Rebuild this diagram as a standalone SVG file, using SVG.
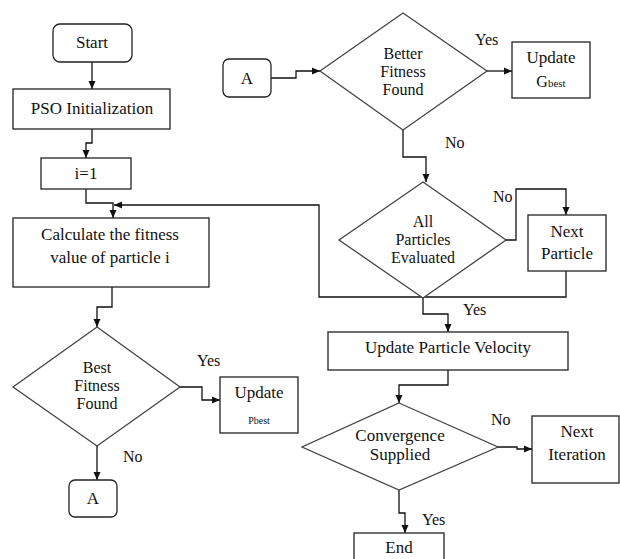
<svg xmlns="http://www.w3.org/2000/svg" width="620" height="559" viewBox="0 0 620 559">
<style>
.box{fill:#fff;stroke:#222;stroke-width:1.3}
.dia{fill:#fff;stroke:#444;stroke-width:1.3}
text{font-family:'Liberation Serif','DejaVu Serif','Times New Roman',serif;fill:#111}
.t{font-size:17px;text-anchor:middle}
.d{font-size:16px;text-anchor:middle}
.l{font-size:16px}
.s{font-size:10px;text-anchor:middle}
.c{fill:none;stroke:#111;stroke-width:1.3}
</style>
<defs>
<marker id="ah" markerUnits="userSpaceOnUse" markerWidth="9" markerHeight="8" refX="8" refY="4" orient="auto">
<path d="M0,0.5 L8,4 L0,7.5 z" fill="#111"/>
</marker>
</defs>
<rect width="620" height="559" fill="#fff"/>
<g id="connectors">
<path class="c" d="M92,62 V89" marker-end="url(#ah)"/>
<path class="c" d="M92,129 V143 H86 V158" marker-end="url(#ah)"/>
<path class="c" d="M86,189 V203 H113 V218" marker-end="url(#ah)"/>
<path class="c" d="M566,271 V297 H319 V205 H114" marker-end="url(#ah)"/>
<path class="c" d="M112,287 V307 H97 V327" marker-end="url(#ah)"/>
<path class="c" d="M180,387 H202 V400 H220" marker-end="url(#ah)"/>
<path class="c" d="M97,446 V480" marker-end="url(#ah)"/>
<path class="c" d="M271,78 H296 V71 H320" marker-end="url(#ah)"/>
<path class="c" d="M487,71 H512" marker-end="url(#ah)"/>
<path class="c" d="M403,130 V157 H426 V182" marker-end="url(#ah)"/>
<path class="c" d="M506,240 H516 V189 H566 V215" marker-end="url(#ah)"/>
<path class="c" d="M423,298 V314 H448 V332" marker-end="url(#ah)"/>
<path class="c" d="M448,370 V385 H399 V403" marker-end="url(#ah)"/>
<path class="c" d="M498,447 H517 V449 H532" marker-end="url(#ah)"/>
<path class="c" d="M399,490 V513 H405 V533" marker-end="url(#ah)"/>
</g>
<g id="start"><rect class="box" x="53" y="24" width="79" height="38" rx="7"/><text class="t" x="92" y="48">Start</text></g>
<g id="pso-init"><rect class="box" x="13" y="89" width="157" height="40"/><text class="t" x="92" y="114">PSO Initialization</text></g>
<g id="i-init"><rect class="box" x="41" y="158" width="90" height="31"/><text class="t" x="86" y="179">i=1</text></g>
<g id="calc"><rect class="box" x="13" y="218" width="196" height="69"/><text class="t" x="110" y="240">Calculate the fitness</text><text class="t" x="110" y="263">value of particle i</text></g>
<g id="best-fitness"><polygon class="dia" points="97,327 180,387 97,446 13,387"/><text class="d" x="97" y="373">Best</text><text class="d" x="97" y="391">Fitness</text><text class="d" x="97" y="409">Found</text></g>
<g id="update-pbest"><rect class="box" x="220" y="377" width="78" height="56"/><text class="t" x="259" y="398">Update</text><text class="s" x="259" y="424">Pbest</text></g>
<g id="a-out"><rect class="box" x="69" y="480" width="48" height="37" rx="6"/><text class="t" x="93" y="504">A</text></g>
<g id="a-in"><rect class="box" x="223" y="59" width="48" height="38" rx="6"/><text class="t" x="247" y="84">A</text></g>
<g id="better-fitness"><polygon class="dia" points="403,13 487,71 403,130 320,71"/><text class="d" x="403" y="59">Better</text><text class="d" x="403" y="77">Fitness</text><text class="d" x="403" y="95">Found</text></g>
<g id="update-gbest"><rect class="box" x="512" y="42" width="78" height="56"/><text class="t" x="551" y="63">Update</text><text class="t" x="551" y="87" style="font-size:16px">G<tspan style="font-size:11px">best</tspan></text></g>
<g id="all-evaluated"><polygon class="dia" points="423,182 506,240 423,298 339,240"/><text class="d" x="423" y="227">All</text><text class="d" x="423" y="245">Particles</text><text class="d" x="423" y="263">Evaluated</text></g>
<g id="next-particle"><rect class="box" x="528" y="215" width="78" height="56"/><text class="t" x="567" y="237">Next</text><text class="t" x="567" y="259">Particle</text></g>
<g id="update-velocity"><rect class="box" x="328" y="332" width="240" height="38"/><text class="t" x="448" y="353">Update Particle Velocity</text></g>
<g id="convergence"><polygon class="dia" points="399,403 498,447 399,490 302,447"/><text class="t" x="400" y="441">Convergence</text><text class="t" x="400" y="460">Supplied</text></g>
<g id="next-iteration"><rect class="box" x="532" y="416" width="87" height="67"/><text class="t" x="577" y="437">Next</text><text class="t" x="577" y="460">Iteration</text></g>
<g id="end"><rect class="box" x="354" y="533" width="90" height="32"/><text class="t" x="399" y="553">End</text></g>
<g id="labels">
<text class="l" x="197" y="366">Yes</text>
<text class="l" x="123" y="462">No</text>
<text class="l" x="475" y="45">Yes</text>
<text class="l" x="445" y="148">No</text>
<text class="l" x="493" y="202">No</text>
<text class="l" x="463" y="315">Yes</text>
<text class="l" x="491" y="425">No</text>
<text class="l" x="422" y="525">Yes</text>
</g>
</svg>
